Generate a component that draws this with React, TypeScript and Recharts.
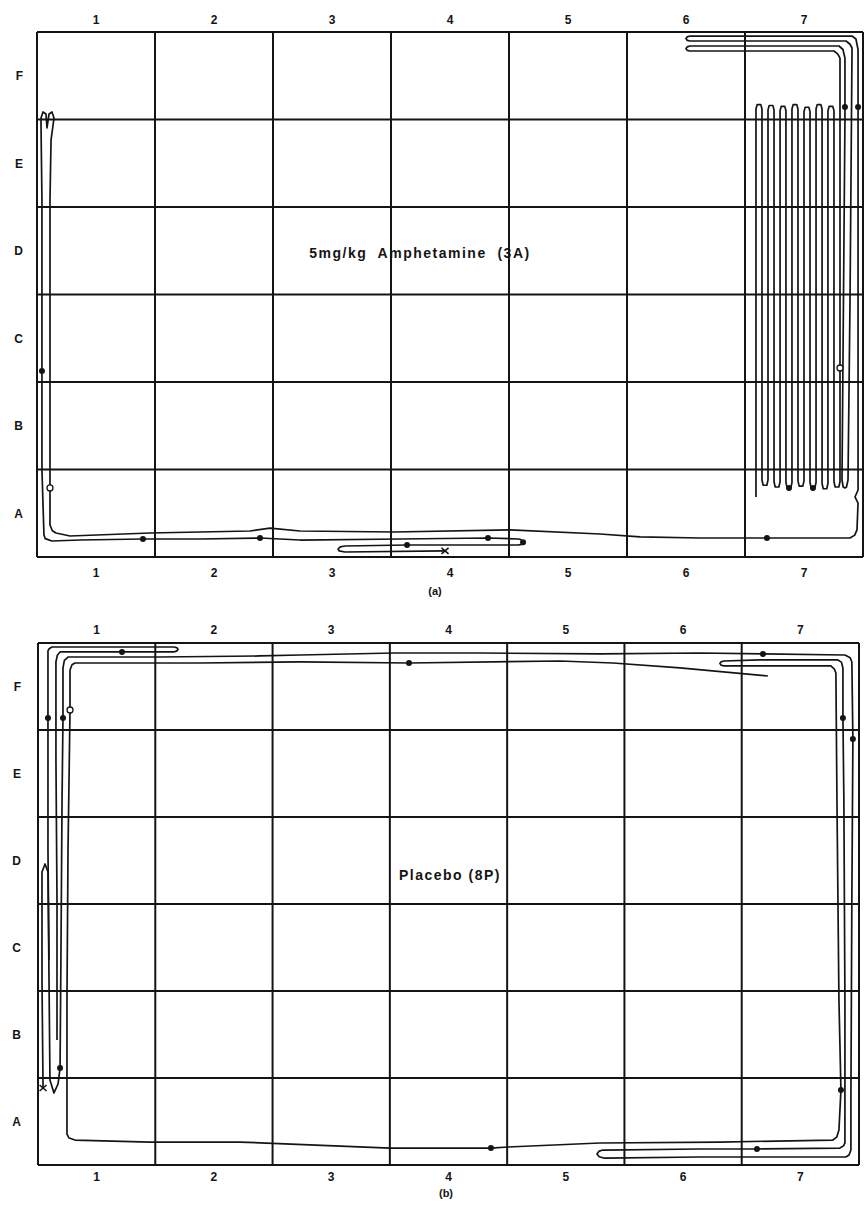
import React from "react";
import { ComposedChart, Line, Scatter, XAxis, YAxis, ReferenceLine } from "recharts";

// grid: 7 columns (1-7) x 6 rows (A-F), traces in grid units (x 0-7, y 0-6)
const colLabels = ["1", "2", "3", "4", "5", "6", "7"];
const rowLabels = ["A", "B", "C", "D", "E", "F"];
const colTicks = [0.5, 1.5, 2.5, 3.5, 4.5, 5.5, 6.5];
const rowTicks = [0.5, 1.5, 2.5, 3.5, 4.5, 5.5];
const gridCols = [0, 1, 2, 3, 4, 5, 6, 7];
const gridRows = [0, 1, 2, 3, 4, 5, 6];

type Pt = [number, number];

// (a) 5mg/kg amphetamine
const ampTrace: Pt[] = [
  [3.458, 0.069], [2.61, 0.057], [2.56, 0.07], [2.551, 0.091], [2.57, 0.115], [2.61, 0.126],
  [3.136, 0.137], [4.076, 0.137], [4.11, 0.145], [4.119, 0.17], [4.1, 0.2], [4.076, 0.206],
  [3.822, 0.217], [3.076, 0.206], [2.229, 0.194], [1.89, 0.217], [1.381, 0.206], [0.898, 0.206],
  [0.364, 0.194], [0.127, 0.183], [0.07, 0.21], [0.059, 0.251], [0.042, 0.994], [0.042, 2.126],
  [0.042, 4.08], [0.034, 4.937], [0.034, 5.017], [0.051, 5.086], [0.076, 5.063], [0.085, 4.903],
  [0.102, 5.063], [0.127, 5.086], [0.144, 5.017], [0.119, 4.766], [0.11, 4.08], [0.11, 0.789],
  [0.11, 0.366], [0.13, 0.3], [0.161, 0.274], [0.28, 0.24], [0.958, 0.274], [1.805, 0.297],
  [1.975, 0.331], [2.229, 0.297], [3.025, 0.286], [4.008, 0.309], [4.771, 0.263], [5.11, 0.229],
  [5.619, 0.217], [6.186, 0.217], [6.89, 0.217], [6.93, 0.25], [6.949, 0.309], [6.958, 0.617],
  [6.932, 0.686], [6.958, 0.766], [6.958, 5.143], [6.958, 5.8], [6.94, 5.92], [6.907, 5.954],
  [5.534, 5.954], [5.51, 5.945], [5.5, 5.926], [5.51, 5.905], [5.534, 5.897], [6.856, 5.897],
  [6.89, 5.86], [6.907, 5.817], [6.89, 2.937], [6.873, 0.88], [6.86, 0.8], [6.847, 0.789],
  [6.832, 0.8], [6.822, 0.88], [6.847, 4.994], [6.847, 5.143], [6.847, 5.703], [6.83, 5.8],
  [6.797, 5.84], [5.534, 5.84], [5.51, 5.83], [5.5, 5.811], [5.51, 5.79], [5.534, 5.783],
  [6.754, 5.783], [6.785, 5.75], [6.805, 5.703],
];
// back-and-forth runs in column 7
const ampSerpentine: Pt[] = [
  [6.805, 5.703], [6.805, 0.86], [6.795, 0.8], [6.764, 0.8], [6.754, 0.86],
  [6.754, 5.1], [6.744, 5.15], [6.713, 5.15], [6.703, 5.1],
  [6.703, 0.84], [6.693, 0.78], [6.663, 0.78], [6.653, 0.84],
  [6.653, 5.12], [6.643, 5.17], [6.612, 5.17], [6.602, 5.12],
  [6.602, 0.85], [6.592, 0.79], [6.561, 0.79], [6.551, 0.85],
  [6.551, 5.09], [6.541, 5.14], [6.51, 5.14], [6.5, 5.09],
  [6.5, 0.87], [6.49, 0.81], [6.459, 0.81], [6.449, 0.87],
  [6.449, 5.12], [6.439, 5.17], [6.408, 5.17], [6.398, 5.12],
  [6.398, 0.85], [6.388, 0.79], [6.357, 0.79], [6.347, 0.85],
  [6.347, 5.1], [6.337, 5.15], [6.307, 5.15], [6.297, 5.1],
  [6.297, 0.86], [6.287, 0.8], [6.256, 0.8], [6.246, 0.86],
  [6.246, 5.11], [6.236, 5.16], [6.205, 5.16], [6.195, 5.11],
  [6.195, 0.88], [6.185, 0.82], [6.154, 0.82], [6.144, 0.88],
  [6.144, 5.12], [6.134, 5.17], [6.103, 5.17], [6.093, 5.12],
  [6.093, 0.686],
];
const ampDots: Pt[] = [
  [3.136, 0.137], [4.119, 0.17], [3.822, 0.217], [1.89, 0.217], [0.898, 0.206], [0.042, 2.126],
  [6.186, 0.217], [6.958, 5.143], [6.847, 5.143], [6.373, 0.79], [6.576, 0.79],
];
const ampRings: Pt[] = [[0.11, 0.789], [6.805, 2.16]];
const ampStart: Pt[] = [[3.458, 0.069]];

// (b) placebo
const placeboTrace: Pt[] = [
  [0.043, 0.885], [0.034, 2.126], [0.034, 3.368], [0.06, 3.46], [0.085, 3.368], [0.094, 2.126],
  [0.102, 0.977], [0.136, 0.828], [0.171, 0.931], [0.188, 1.115], [0.196, 2.471], [0.205, 4.195],
  [0.213, 5.138], [0.213, 5.713], [0.225, 5.8], [0.256, 5.839], [1.04, 5.839], [1.893, 5.851],
  [2.234, 5.862], [3.035, 5.885], [3.768, 5.885], [4.791, 5.874], [5.644, 5.885], [6.181, 5.874],
  [6.88, 5.862], [6.925, 5.83], [6.939, 5.782], [6.948, 4.897], [6.939, 3.046], [6.931, 0.747],
  [6.931, 0.172], [6.915, 0.115], [6.888, 0.092], [5.644, 0.092], [4.825, 0.08], [4.785, 0.095],
  [4.766, 0.126], [4.785, 0.16], [4.817, 0.172], [5.644, 0.184], [6.13, 0.184], [6.837, 0.195],
  [6.868, 0.22], [6.88, 0.253], [6.88, 1.897], [6.871, 4.195], [6.863, 5.138], [6.863, 5.713],
  [6.85, 5.78], [6.82, 5.805], [6.155, 5.805], [5.848, 5.793], [5.825, 5.785], [5.814, 5.764],
  [5.825, 5.745], [5.848, 5.736], [6.76, 5.736], [6.79, 5.7], [6.803, 5.655], [6.812, 4.195],
  [6.829, 1.897], [6.846, 0.862], [6.829, 0.402], [6.81, 0.32], [6.777, 0.287], [5.814, 0.264],
  [4.791, 0.253], [4.007, 0.207], [3.862, 0.195], [3.001, 0.195], [1.722, 0.264], [0.955, 0.264],
  [0.315, 0.287], [0.265, 0.31], [0.247, 0.356], [0.247, 1.897], [0.256, 3.621], [0.273, 5.23],
  [0.273, 5.69], [0.29, 5.75], [0.315, 5.77], [1.381, 5.77], [2.234, 5.782], [3.163, 5.77],
  [4.45, 5.793], [4.902, 5.77], [5.473, 5.713], [6.223, 5.621],
];
const placeboCornerLoop: Pt[] = [
  [0.162, 1.437], [0.162, 3.046], [0.153, 4.655], [0.153, 5.782], [0.165, 5.86], [0.188, 5.897],
  [0.716, 5.897], [1.159, 5.897], [1.185, 5.91], [1.194, 5.925], [1.185, 5.945], [1.159, 5.954],
  [0.119, 5.954], [0.095, 5.935], [0.085, 5.908], [0.085, 5.138], [0.085, 3.621], [0.094, 2.356],
];
const placeboDots: Pt[] = [
  [0.716, 5.897], [0.085, 5.138], [0.213, 5.138], [0.188, 1.115], [6.181, 5.874], [6.948, 4.897],
  [6.863, 5.138], [6.13, 0.184], [6.846, 0.862], [3.862, 0.195], [3.163, 5.77],
];
const placeboRings: Pt[] = [[0.273, 5.23]];
const placeboStart: Pt[] = [[0.043, 0.885]];

const toRows = (pts: Pt[]) => pts.map(([x, y]) => ({ x, y }));

const INK = "#141414";
const FONT = "'Liberation Sans', Arial, sans-serif";
const tickStyle = { fontSize: 12, fontWeight: 700, fill: INK, fontFamily: FONT };

const DotShape = (p: any) => <circle cx={p.cx} cy={p.cy} r={3} fill={INK} />;
const RingShape = (p: any) => (
  <circle cx={p.cx} cy={p.cy} r={3} fill="#fff" stroke={INK} strokeWidth={1.3} />
);
const XShape = (p: any) => (
  <g stroke={INK} strokeWidth={1.6}>
    <line x1={p.cx - 3.5} y1={p.cy - 3} x2={p.cx + 3.5} y2={p.cy + 3} />
    <line x1={p.cx - 3.5} y1={p.cy + 3} x2={p.cx + 3.5} y2={p.cy - 3} />
  </g>
);

interface PanelProps {
  height: number;
  margin: { top: number; right: number; bottom: number; left: number };
  yWidth: number;
  topH: number;
  topGap: number;
  bottomGap: number;
  leftGap: number;
  traces: Pt[][];
  dots: Pt[];
  rings: Pt[];
  start: Pt[];
}

function Panel({ height, margin, yWidth, topH, topGap, bottomGap, leftGap, traces, dots, rings, start }: PanelProps) {
  return (
    <ComposedChart width={865} height={height} margin={margin}>
      <XAxis
        xAxisId="bottom"
        type="number"
        dataKey="x"
        domain={[0, 7]}
        ticks={colTicks}
        interval={0}
        tickFormatter={(v: number) => colLabels[Math.floor(v)]}
        axisLine={false}
        tickLine={false}
        tickSize={0}
        tickMargin={bottomGap}
        height={30}
        tick={tickStyle}
        allowDataOverflow
      />
      <XAxis
        xAxisId="top"
        orientation="top"
        type="number"
        dataKey="x"
        domain={[0, 7]}
        ticks={colTicks}
        interval={0}
        tickFormatter={(v: number) => colLabels[Math.floor(v)]}
        axisLine={false}
        tickLine={false}
        tickSize={0}
        tickMargin={topGap}
        height={topH}
        tick={tickStyle}
        allowDataOverflow
      />
      <YAxis
        type="number"
        dataKey="y"
        domain={[0, 6]}
        ticks={rowTicks}
        interval={0}
        tickFormatter={(v: number) => rowLabels[Math.floor(v)]}
        axisLine={false}
        tickLine={false}
        tickSize={0}
        tickMargin={leftGap}
        width={yWidth}
        tick={tickStyle}
        allowDataOverflow
      />
      {gridCols.map((c) => (
        <ReferenceLine key={"c" + c} xAxisId="bottom" x={c} stroke={INK} strokeWidth={2} />
      ))}
      {gridRows.map((r) => (
        <ReferenceLine key={"r" + r} xAxisId="bottom" y={r} stroke={INK} strokeWidth={2} />
      ))}
      {traces.map((t, i) => (
        <Line
          key={i}
          xAxisId="bottom"
          data={toRows(t)}
          dataKey="y"
          type="linear"
          stroke={INK}
          strokeWidth={1.7}
          strokeLinejoin="round"
          dot={false}
          activeDot={false}
          isAnimationActive={false}
        />
      ))}
      <Scatter xAxisId="bottom" data={toRows(dots)} dataKey="y" shape={DotShape} isAnimationActive={false} />
      <Scatter xAxisId="bottom" data={toRows(rings)} dataKey="y" shape={RingShape} isAnimationActive={false} />
      <Scatter xAxisId="bottom" data={toRows(start)} dataKey="y" shape={XShape} isAnimationActive={false} />
    </ComposedChart>
  );
}

const labelStyle: React.CSSProperties = {
  position: "absolute",
  transform: "translate(-50%, -50%)",
  fontFamily: FONT,
  fontWeight: 700,
  color: INK,
  whiteSpace: "pre",
  lineHeight: 1,
};

export default function App() {
  return (
    <div style={{ position: "absolute", left: 0, top: 0, width: 865, height: 1207, background: "#fff" }}>
      <div style={{ position: "absolute", left: 0, top: 0 }}>
        <Panel
          height={600}
          margin={{ top: 0, right: 2, bottom: 13, left: 0 }}
          yWidth={37}
          topH={32}
          topGap={8}
          bottomGap={11}
          leftGap={14}
          traces={[ampTrace, ampSerpentine]}
          dots={ampDots}
          rings={ampRings}
          start={ampStart}
        />
      </div>
      <div style={{ position: "absolute", left: 0, top: 600 }}>
        <Panel
          height={607}
          margin={{ top: 13, right: 6, bottom: 12, left: 0 }}
          yWidth={38}
          topH={30}
          topGap={9}
          bottomGap={7}
          leftGap={17}
          traces={[placeboTrace, placeboCornerLoop]}
          dots={placeboDots}
          rings={placeboRings}
          start={placeboStart}
        />
      </div>
      <div style={{ ...labelStyle, left: 420, top: 253, fontSize: 14, letterSpacing: 1.5 }}>
        5mg/kg  Amphetamine  (3A)
      </div>
      <div style={{ ...labelStyle, left: 450, top: 875, fontSize: 14, letterSpacing: 1.5 }}>Placebo (8P)</div>
      <div style={{ ...labelStyle, left: 435, top: 591, fontSize: 11 }}>(a)</div>
      <div style={{ ...labelStyle, left: 446, top: 1193, fontSize: 11 }}>(b)</div>
    </div>
  );
}
